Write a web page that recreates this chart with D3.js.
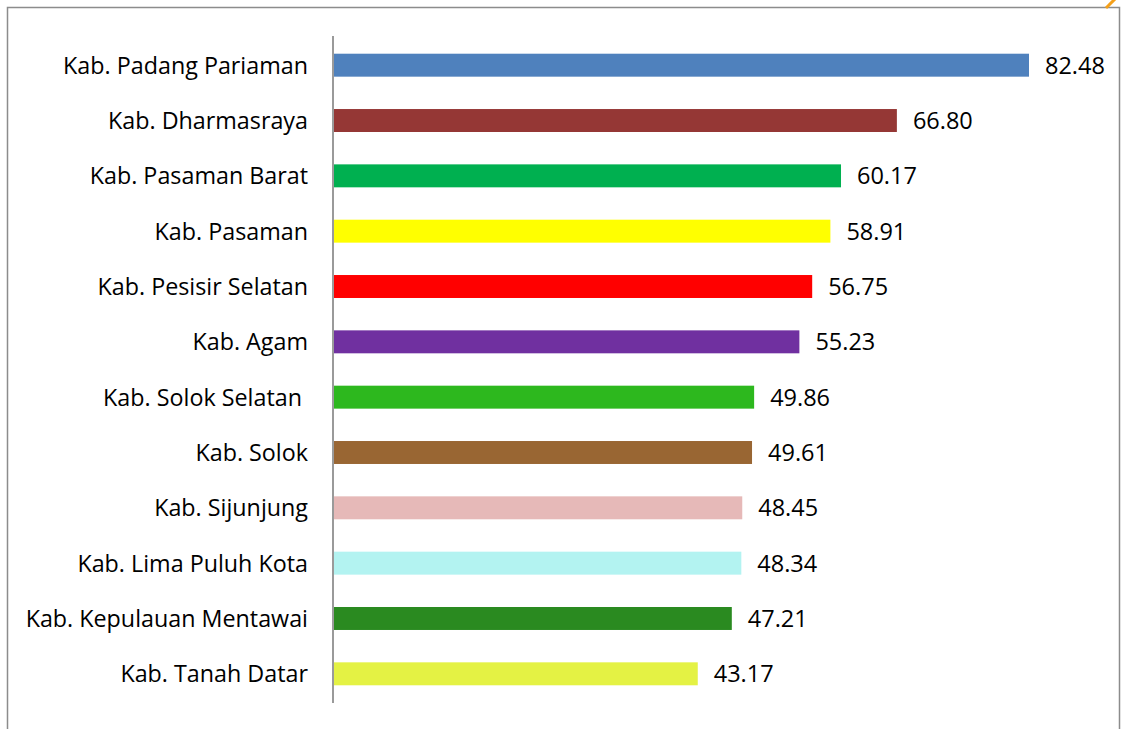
<!DOCTYPE html>
<html>
<head>
<meta charset="utf-8">
<script src="https://cdn.jsdelivr.net/npm/d3@7"></script>
<style>
  html, body { margin: 0; padding: 0; background: #fff; }
  svg { display: block; }
  text { font-family: "Open Sans", "Noto Sans", sans-serif; fill: #000; white-space: pre; }
</style>
</head>
<body>
<svg id="chart" width="1122" height="729"></svg>
<script>
// Regencies of West Sumatra, ranked by value
const categories = [
  "Kab. Padang Pariaman",
  "Kab. Dharmasraya",
  "Kab. Pasaman Barat",
  "Kab. Pasaman",
  "Kab. Pesisir Selatan",
  "Kab. Agam",
  "Kab. Solok Selatan ",
  "Kab. Solok",
  "Kab. Sijunjung",
  "Kab. Lima Puluh Kota",
  "Kab. Kepulauan Mentawai",
  "Kab. Tanah Datar"
];
const values = [82.48, 66.80, 60.17, 58.91, 56.75, 55.23, 49.86, 49.61, 48.45, 48.34, 47.21, 43.17];
const barColors = [
  "#4F81BD", "#953735", "#00B050", "#FFFF00", "#FF0000", "#7030A0",
  "#2DB81E", "#996633", "#E6B9B8", "#B3F3F1", "#2A8A20", "#E4F244"
];

const svg = d3.select("#chart");

// Frame around the plot area (open at the bottom)
svg.append("path")
  .attr("d", "M7.5,729 V7.5 H1119.5 V729")
  .attr("fill", "none")
  .attr("stroke", "#8c8c8c")
  .attr("stroke-width", 1.5);

// small orange corner mark
svg.append("line")
  .attr("x1", 1106).attr("y1", 8).attr("x2", 1116).attr("y2", -2)
  .attr("stroke", "#F5A01A").attr("stroke-width", 3);

const x0 = 334;
const x = d3.scaleLinear().domain([0, 82.48]).range([x0, 1029]);
const y = d3.scaleBand().domain(categories).range([36, 703]).paddingInner(0.585).paddingOuter(0.32);

// bars
svg.append("g").selectAll("rect")
  .data(values)
  .join("rect")
  .attr("x", x(0))
  .attr("y", (d, i) => y(categories[i]))
  .attr("width", d => x(d) - x(0))
  .attr("height", y.bandwidth())
  .attr("fill", (d, i) => barColors[i]);

// category axis
const axis = svg.append("g")
  .attr("transform", `translate(${x0 - 1},0)`)
  .call(d3.axisLeft(y).tickSize(0).tickPadding(25));
axis.select(".domain")
  .attr("d", "M0,36V703")
  .attr("stroke", "#9a9a9a")
  .attr("stroke-width", 2);
axis.selectAll(".tick text")
  .style("font-family", "'Open Sans', 'Noto Sans', sans-serif")
  .style("font-size", "23.3px")
  .attr("dy", "0.36em")
  .attr("fill", "#000");

// value labels
svg.append("g").selectAll("text")
  .data(values)
  .join("text")
  .attr("x", d => x(d) + 16)
  .attr("y", (d, i) => y(categories[i]) + y.bandwidth() / 2)
  .attr("dy", "0.36em")
  .style("font-size", "23.5px")
  .text(d => d.toFixed(2));
</script>
</body>
</html>
